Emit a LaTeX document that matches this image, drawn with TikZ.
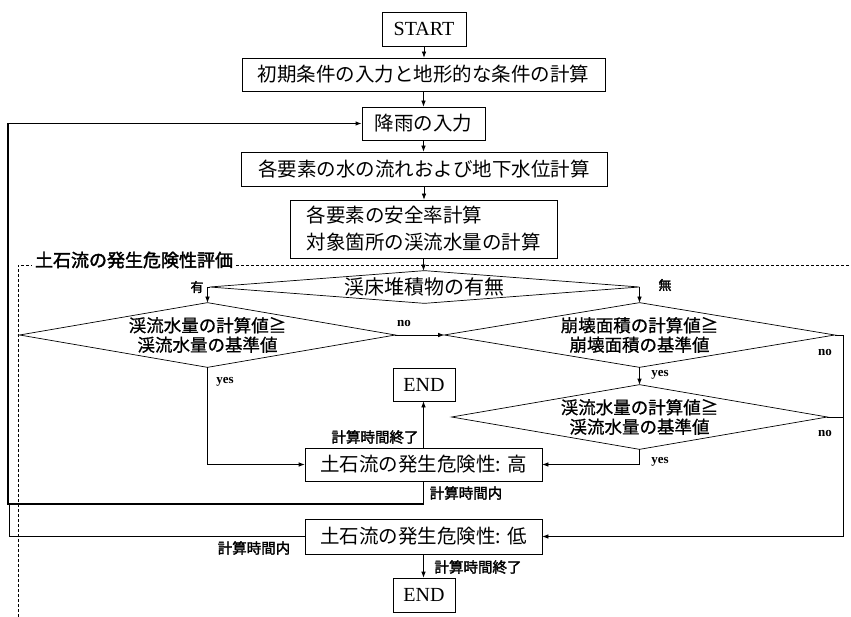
\documentclass[tikz,border=0pt]{standalone}
\usepackage{fontspec}
\setmainfont{Liberation Serif}
\newfontfamily\jp[AutoFakeBold=2]{Noto Sans CJK JP}
\newfontfamily\jpm[FakeBold=0.8]{Noto Sans CJK JP}
\usetikzlibrary{arrows.meta}
\begin{document}
\begin{tikzpicture}[x=1pt,y=-1pt,
  line width=0.7pt,
  >={Latex[length=6pt,width=4.5pt]},
  box/.style={draw,rectangle,inner sep=0pt,font={\jp\fontsize{19.5}{27}\selectfont}},
  endbox/.style={draw,rectangle,inner sep=0pt,minimum width=62pt,font={\fontsize{20}{22}\selectfont}},
  dia/.style={rectangle,inner sep=0pt,align=center,font={\jpm\fontsize{17.5}{19.5}\selectfont}},
  dialine/.style={draw,line width=0.7pt},
  lab/.style={inner sep=0pt,font={\jp\bfseries\fontsize{14.5}{16}\selectfont}},
  yn/.style={inner sep=0pt,font={\bfseries\fontsize{13}{14}\selectfont}},
  loopline/.style={line width=1.3pt},
  frame/.style={dashed,dash pattern=on 3pt off 2pt,line width=0.7pt}]
\useasboundingbox (0,0) rectangle (851,617);

% dashed frame
\coordinate (fa) at (18,617);
\coordinate (fb) at (18,265);
\coordinate (fc) at (851,265);
\draw[frame] (fa) -- (fb) -- (fc);
\node[fill=white,inner sep=3pt,font={\jp\bfseries\fontsize{18}{20}\selectfont}] (title) at (134,260) {土石流の発生危険性評価};

% main column
\node[box,minimum width=84pt,minimum height=34pt,font={\fontsize{20}{22}\selectfont}] (start) at (424,29) {START};
\node[box,minimum width=363pt,minimum height=33pt] (init) at (423.5,74.5) {初期条件の入力と地形的な条件の計算};
\node[box,minimum width=123pt,minimum height=33pt] (rain) at (423.5,123.5) {降雨の入力};
\node[box,minimum width=366pt,minimum height=34pt] (flow) at (424,169) {各要素の水の流れおよび地下水位計算};
\node[box,minimum width=267pt,minimum height=58pt,align=left] (safe) at (423.5,229) {各要素の安全率計算\\対象箇所の渓流水量の計算};

% diamonds
\node[dia,minimum width=429pt,minimum height=32pt,font={\jp\fontsize{20}{22}\selectfont}] (d1) at (424.5,287) {渓床堆積物の有無};
\node[dia,minimum width=375pt,minimum height=64pt] (d2) at (207.5,335) {渓流水量の計算値≧\\渓流水量の基準値};
\node[dia,minimum width=390pt,minimum height=64pt] (d3) at (639.5,335) {崩壊面積の計算値≧\\崩壊面積の基準値};
\node[dia,minimum width=375pt,minimum height=64pt] (d4) at (639.5,417) {渓流水量の計算値≧\\渓流水量の基準値};
\foreach \d in {d1,d2,d3,d4}{
  \draw[dialine] (\d.north) -- (\d.east) -- (\d.south) -- (\d.west) -- cycle;
}

% result boxes
\node[endbox,minimum height=33pt] (end1) at (424,384.5) {END};
\node[box,minimum width=237pt,minimum height=33pt] (high) at (423.5,464.5) {土石流の発生危険性: 高};
\node[box,minimum width=237pt,minimum height=35pt] (low) at (423.5,536.5) {土石流の発生危険性: 低};
\node[endbox,minimum height=34pt] (end2) at (424,595) {END};

% main chain
\draw[->] (start.south) -- (start.south |- init.north);
\draw[->] (init.south) -- (init.south |- rain.north);
\draw[->] (rain.south) -- (rain.south |- flow.north);
\draw[->] (flow.south) -- (flow.south |- safe.north);
\draw[->] (safe.south) -- (safe.south |- d1.north);

% branches
\draw[->] (d1.west) -| (d2.north);
\draw[->] (d1.east) -| (d3.north);
\draw[->] (d2.east) -- (d3.west);
\draw[->] (d3.south) -- (d4.north);
\draw[->] (d2.south) |- (high.west);
\draw[->] (d4.south) |- (high.east);
\coordinate (rc) at (843.5,335);
\draw[->] (d3.east) -- (rc) |- (low.east);
\draw (d4.east) -- (d4.east -| rc);
\draw[->] (high.north) -- (high.north |- end1.south);
\draw[->] (low.south) -- (low.south |- end2.north);

% loops
\coordinate (loopc) at (8,504);
\draw[loopline,->] (high.south) |- (loopc) |- (rain.west);
\coordinate (lowc) at (9.5,504);
\draw (low.west) -| (lowc);

% labels
\node[lab,font={\jp\bfseries\fontsize{13}{14}\selectfont}] (lyu) at (197,287) {有};
\node[lab,font={\jp\bfseries\fontsize{13}{14}\selectfont}] (lmu) at (665,285) {無};
\node[yn] (no1) at (404,324) {no};
\node[yn] (no2) at (825,353) {no};
\node[yn] (no3) at (825,433) {no};
\node[yn] (yes1) at (225,382) {yes};
\node[yn] (yes2) at (660,375) {yes};
\node[yn] (yes3) at (660,462) {yes};
\node[lab] (t1) at (375,437) {計算時間終了};
\node[lab] (t2) at (466,493) {計算時間内};
\node[lab] (t3) at (254,548) {計算時間内};
\node[lab] (t4) at (478,567) {計算時間終了};
\end{tikzpicture}
\end{document}
